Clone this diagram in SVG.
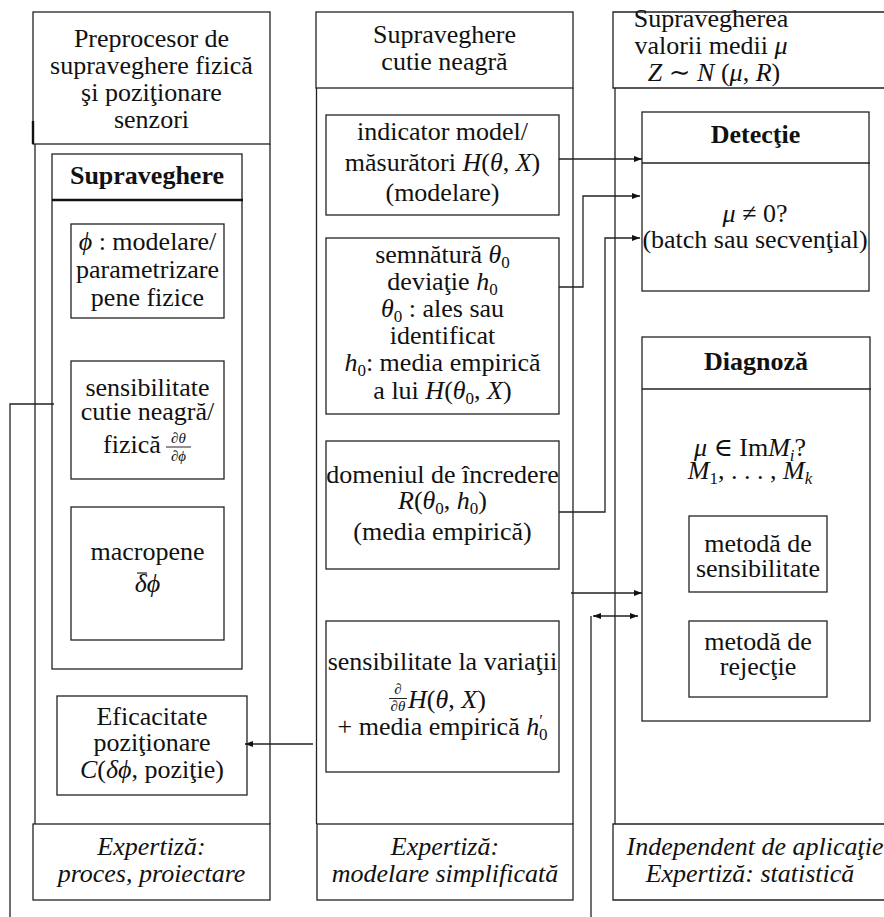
<svg xmlns="http://www.w3.org/2000/svg" width="884" height="917" viewBox="0 0 884 917" font-family="'Liberation Serif', 'Times New Roman', 'DejaVu Serif', serif">
<defs>
<style>
.bx{fill:none;stroke:#222;stroke-width:1.3}
.ln{fill:none;stroke:#222;stroke-width:1.3}
.thk{fill:none;stroke:#111;stroke-width:2.4}
text{font-family:'Liberation Serif','Times New Roman','DejaVu Serif',serif;font-size:26px;fill:#111;text-anchor:middle}
.b{font-weight:bold}
.i{font-style:italic}
.it{font-style:italic}
.s{font-size:17px;font-style:normal}
.si{font-size:17px;font-style:italic}
.fr{font-size:15px;font-style:italic}
</style>
<marker id="ah" viewBox="0 0 8 6" refX="8" refY="3" markerWidth="8" markerHeight="6" markerUnits="userSpaceOnUse" orient="auto-start-reverse"><path d="M0,0 L8,3 L0,6 z" fill="#111"/></marker>
</defs>
<rect width="884" height="917" fill="#fff"/>

<!-- Left column -->
<g id="col-left">
<rect class="bx" x="33" y="12" width="237" height="132"/>
<line class="thk" x1="33" y1="121" x2="33" y2="144"/>
<line class="ln" x1="35" y1="144" x2="35" y2="824"/>
<line class="ln" x1="270" y1="144" x2="270" y2="824"/>
<text x="151.5" y="47">Preprocesor de</text>
<text x="151.5" y="74">supraveghere fizică</text>
<text x="151.5" y="101">şi poziţionare</text>
<text x="151.5" y="128">senzori</text>
</g>
<g id="supraveghere">
<rect class="bx" x="52" y="154" width="190" height="515"/>
<line class="thk" x1="52" y1="200" x2="243" y2="200"/>
<text class="b" x="147" y="184">Supraveghere</text>
</g>
<g id="node-phi">
<rect class="bx" x="71" y="224" width="153" height="94"/>
<text x="147.5" y="250"><tspan class="i">ϕ</tspan> : modelare/</text>
<text x="147.5" y="278">parametrizare</text>
<text x="147.5" y="306">pene fizice</text>
</g>
<g id="node-sens-cutie">
<rect class="bx" x="71" y="361" width="153" height="118"/>
<text x="147.5" y="396">sensibilitate</text>
<text x="147.5" y="420">cutie neagră/</text>
<text x="103" y="453" style="text-anchor:start">fizică</text>
<text class="fr" x="178.5" y="443">∂θ</text>
<line class="ln" x1="166" y1="447" x2="191" y2="447" style="stroke-width:1"/>
<text class="fr" x="178.5" y="461">∂ϕ</text>
</g>
<g id="node-macropene">
<rect class="bx" x="71" y="507" width="153" height="133"/>
<text x="147.5" y="560">macropene</text>
<text class="i" x="147.5" y="592">δϕ</text>
<line class="ln" x1="137" y1="573" x2="147" y2="573" style="stroke-width:1.2"/>
</g>
<g id="node-eficacitate">
<rect class="bx" x="57" y="696" width="190" height="99"/>
<text x="152" y="725">Eficacitate</text>
<text x="152" y="751">poziţionare</text>
<text x="152" y="778"><tspan class="i">C</tspan>(<tspan class="i">δϕ</tspan>, poziţie)</text>
</g>
<g id="footer-left">
<rect class="bx" x="33" y="824" width="237" height="76"/>
<text class="it" x="151.5" y="855">Expertiză:</text>
<text class="it" x="151.5" y="882">proces, proiectare</text>
</g>

<!-- Middle column -->
<g id="col-middle">
<rect class="bx" x="316" y="12" width="257" height="76"/>
<line class="ln" x1="316.5" y1="88" x2="316.5" y2="824"/>
<line class="ln" x1="573" y1="88" x2="573" y2="824"/>
<text x="444.5" y="43">Supraveghere</text>
<text x="444.5" y="70">cutie neagră</text>
</g>
<g id="node-indicator">
<rect class="bx" x="326" y="115" width="233" height="100"/>
<text x="442.5" y="140">indicator model/</text>
<text x="442.5" y="171">măsurători <tspan class="i">H</tspan>(<tspan class="i">θ</tspan>, <tspan class="i">X</tspan>)</text>
<text x="442.5" y="201">(modelare)</text>
</g>
<g id="node-semnatura">
<rect class="bx" x="326" y="238" width="233" height="176"/>
<text x="442.5" y="263">semnătură <tspan class="i">θ</tspan><tspan class="s" dy="5">0</tspan></text>
<text x="442.5" y="290">deviaţie <tspan class="i">h</tspan><tspan class="s" dy="5">0</tspan></text>
<text x="442.5" y="317"><tspan class="i">θ</tspan><tspan class="s" dy="5">0</tspan><tspan dy="-5"> : ales sau</tspan></text>
<text x="442.5" y="344">identificat</text>
<text x="442.5" y="371"><tspan class="i">h</tspan><tspan class="s" dy="5">0</tspan><tspan dy="-5">: media empirică</tspan></text>
<text x="442.5" y="399">a lui <tspan class="i">H</tspan>(<tspan class="i">θ</tspan><tspan class="s" dy="5">0</tspan><tspan dy="-5">, </tspan><tspan class="i">X</tspan>)</text>
</g>
<g id="node-domeniul">
<rect class="bx" x="326" y="441" width="233" height="128"/>
<text x="442.5" y="483">domeniul de încredere</text>
<text x="442.5" y="509"><tspan class="i">R</tspan>(<tspan class="i">θ</tspan><tspan class="s" dy="5">0</tspan><tspan dy="-5">, </tspan><tspan class="i">h</tspan><tspan class="s" dy="5">0</tspan><tspan dy="-5">)</tspan></text>
<text x="442.5" y="540">(media empirică)</text>
</g>
<g id="node-sens-variatii">
<rect class="bx" x="326" y="621" width="233" height="151"/>
<text x="442.5" y="670">sensibilitate la variaţii</text>
<text class="fr" x="398" y="694">∂</text>
<line class="ln" x1="389" y1="698.5" x2="407" y2="698.5" style="stroke-width:1"/>
<text class="fr" x="398" y="711">∂θ</text>
<text x="408" y="708" style="text-anchor:start"><tspan class="i">H</tspan>(<tspan class="i">θ</tspan>, <tspan class="i">X</tspan>)</text>
<text x="442.5" y="735">+ media empirică <tspan class="i">h</tspan><tspan class="s" dy="-9">′</tspan><tspan class="s" dx="-4" dy="14">0</tspan></text>
</g>
<g id="footer-middle">
<rect class="bx" x="317" y="824" width="256" height="76"/>
<text class="it" x="445" y="855">Expertiză:</text>
<text class="it" x="445" y="882">modelare simplificată</text>
</g>

<!-- Right column -->
<g id="col-right">
<path class="ln" d="M884,12 H613 V88 H884"/>
<line class="ln" x1="615" y1="88" x2="615" y2="824"/>
<text x="711" y="27">Supravegherea</text>
<text x="711" y="54">valorii medii <tspan class="i">μ</tspan></text>
<text x="714" y="81"><tspan class="i">Z</tspan> ∼ <tspan class="i">N</tspan> (<tspan class="i">μ</tspan>, <tspan class="i">R</tspan>)</text>
</g>
<g id="node-detectie">
<rect class="bx" x="642" y="112" width="227" height="179"/>
<line class="ln" x1="642" y1="163" x2="870" y2="163"/>
<text class="b" x="755.5" y="143">Detecţie</text>
<text x="755" y="222"><tspan class="i">μ</tspan> ≠ 0?</text>
<text x="755" y="248">(batch sau secvenţial)</text>
</g>
<g id="node-diagnoza">
<rect class="bx" x="642" y="337" width="228" height="384"/>
<line class="ln" x1="642" y1="389" x2="871" y2="389"/>
<text class="b" x="756" y="370">Diagnoză</text>
<text x="750" y="456"><tspan class="i">μ</tspan> ∈ Im<tspan class="i">M</tspan><tspan class="si" dy="5">i</tspan><tspan dy="-5">?</tspan></text>
<text x="750" y="479"><tspan class="i">M</tspan><tspan class="s" dy="5">1</tspan><tspan dy="-5">, . . . , </tspan><tspan class="i">M</tspan><tspan class="si" dy="5">k</tspan></text>
</g>
<g id="node-metoda-sens">
<rect class="bx" x="689" y="516" width="138" height="76"/>
<text x="758" y="552">metodă de</text>
<text x="758" y="577">sensibilitate</text>
</g>
<g id="node-metoda-rej">
<rect class="bx" x="689" y="621" width="138" height="76"/>
<text x="758" y="650">metodă de</text>
<text x="758" y="675">rejecţie</text>
</g>
<g id="footer-right">
<path class="ln" d="M884,824 H613 V900 H884"/>
<text class="it" x="755" y="855">Independent de aplicaţie</text>
<text class="it" x="750" y="882">Expertiză: statistică</text>
</g>

<!-- Connectors -->
<g id="connectors">
<path class="ln" d="M559,159 H642" marker-end="url(#ah)"/>
<path class="ln" d="M559,287 H583 V196 H640" marker-end="url(#ah)"/>
<path class="ln" d="M559,512 H605 V238 H640" marker-end="url(#ah)"/>
<path class="ln" d="M571,593 H642" marker-end="url(#ah)"/>
<path class="ln" d="M591,917 V616"/>
<path class="ln" d="M593,616 H638" marker-start="url(#ah)" marker-end="url(#ah)"/>
<path class="ln" d="M313,744 H245" marker-end="url(#ah)"/>
<path class="ln" d="M54,404 H10 V917"/>
</g>
</svg>
